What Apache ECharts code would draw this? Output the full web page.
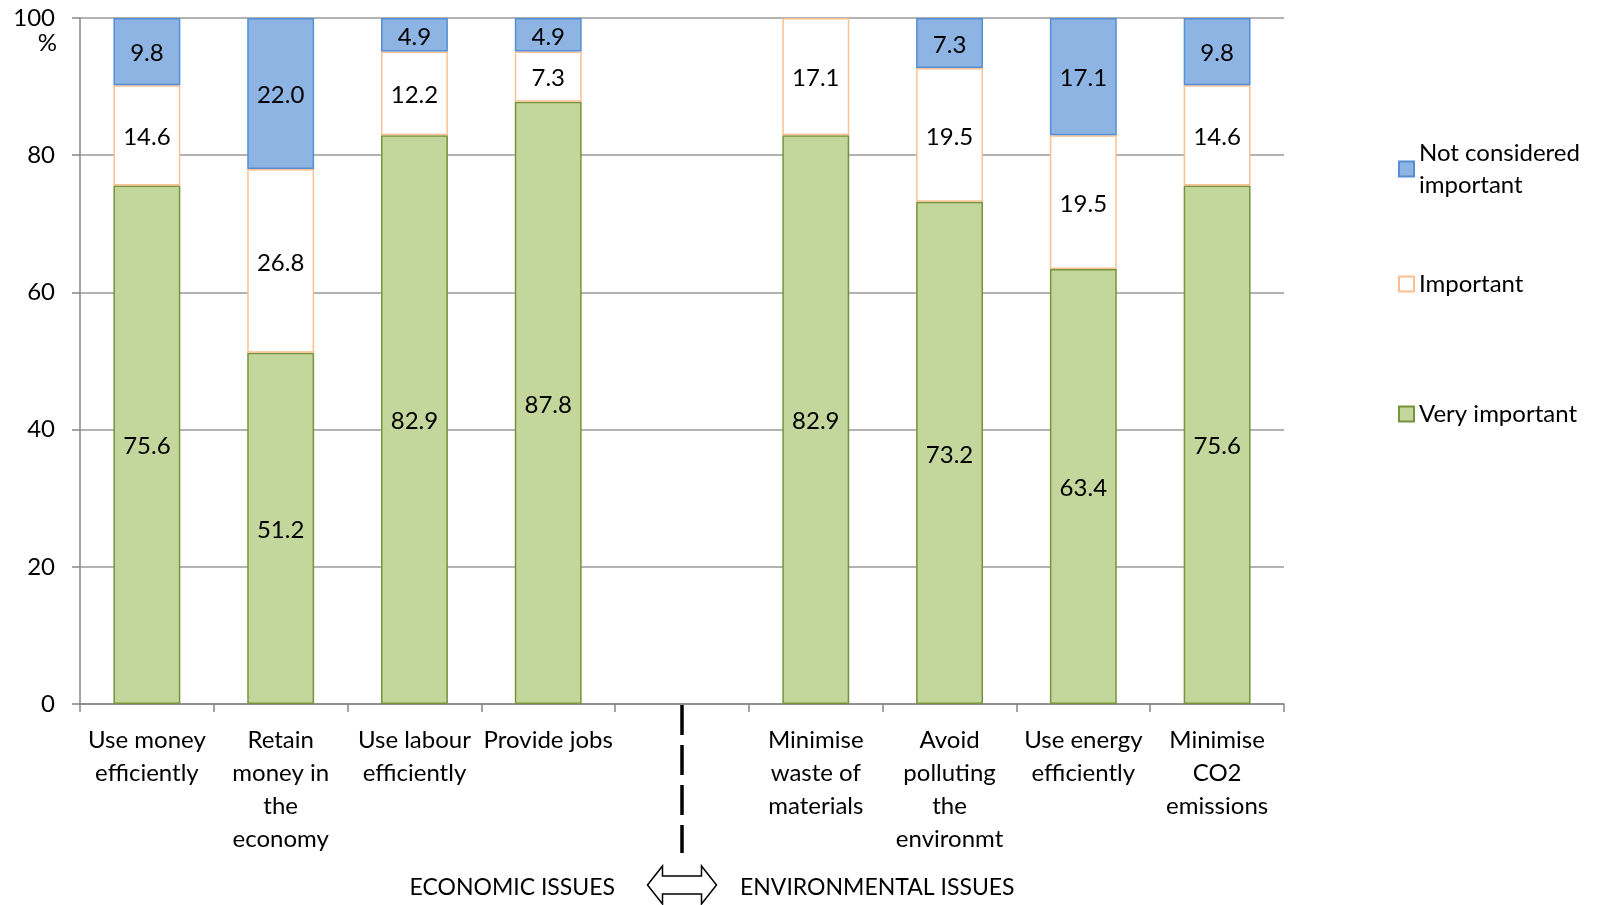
<!DOCTYPE html>
<html>
<head>
<meta charset="utf-8">
<script src="https://cdn.jsdelivr.net/npm/echarts@6/dist/echarts.min.js"></script>
<style>
  html, body { margin: 0; padding: 0; background: #ffffff; }
  #chart { width: 1597px; height: 905px; }
</style>
</head>
<body>
<div id="chart"></div>
<script>
// Issue categories; the empty slot separates economic from environmental issues
const categories = [
  'Use money\nefficiently',
  'Retain\nmoney in\nthe\neconomy',
  'Use labour\nefficiently',
  'Provide jobs',
  '',
  'Minimise\nwaste of\nmaterials',
  'Avoid\npolluting\nthe\nenvironmt',
  'Use energy\nefficiently',
  'Minimise\nCO2\nemissions'
];
const GAP_INDEX = 4;

// Share of respondents (%) per rating
const veryImportant = [75.6, 51.2, 82.9, 87.8, null, 82.9, 73.2, 63.4, 75.6];
const important     = [14.6, 26.8, 12.2, 7.3, null, 17.1, 19.5, 19.5, 14.6];
const notImportant  = [9.8, 22.0, 4.9, 4.9, null, null, 7.3, 17.1, 9.8];

const yTicks = [0, 20, 40, 60, 80, 100];
const groupLabels = ['ECONOMIC ISSUES', 'ENVIRONMENTAL ISSUES'];

const FONT = 'Lato, "Noto Sans", sans-serif';
const FS = 24;

const chart = echarts.init(document.getElementById('chart'), null, { renderer: 'canvas' });

function segmentLabel() {
  return {
    show: true,
    position: 'inside',
    offset: [0, 2],
    color: '#000',
    fontFamily: FONT,
    fontSize: FS,
    formatter: p => (p.value == null ? '' : Number(p.value).toFixed(1))
  };
}

const legendText = { fontFamily: FONT, fontSize: FS, color: '#000', lineHeight: 32 };

chart.setOption({
  animation: false,
  backgroundColor: '#fff',
  grid: { left: 80, right: 313, top: 18, bottom: 201, containLabel: false },
  legend: [
    {
      left: 1398, top: 121, padding: 0, orient: 'vertical', icon: 'rect',
      itemWidth: 15, itemHeight: 15, itemGap: 0, selectedMode: false,
      data: [{ name: 'Not considered important',
               textStyle: Object.assign({}, legendText, { padding: [32, 0, 0, 0] }) }],
      formatter: () => 'Not considered\nimportant',
      textStyle: legendText
    },
    {
      left: 1398, top: 268, padding: 0, icon: 'rect',
      itemWidth: 15, itemHeight: 15, selectedMode: false,
      data: ['Important'], textStyle: legendText
    },
    {
      left: 1398, top: 398, padding: 0, icon: 'rect',
      itemWidth: 15, itemHeight: 15, selectedMode: false,
      data: ['Very important'], textStyle: legendText
    }
  ],
  xAxis: {
    type: 'category',
    data: categories,
    boundaryGap: true,
    axisLine: { lineStyle: { color: '#868686', width: 1.5 } },
    axisTick: { show: true, alignWithLabel: false, length: 8, lineStyle: { color: '#868686', width: 1.5 } },
    axisLabel: {
      interval: 0, margin: 20, color: '#000',
      fontFamily: FONT, fontSize: FS, lineHeight: 33, align: 'center'
    },
    splitLine: { show: false }
  },
  yAxis: {
    type: 'value',
    min: 0, max: 100, interval: 20,
    axisLine: { show: true, lineStyle: { color: '#868686', width: 1.5 } },
    axisTick: { show: true, length: 8, lineStyle: { color: '#868686', width: 1.5 } },
    axisLabel: {
      margin: 25, color: '#000', fontFamily: FONT, fontSize: FS,
      formatter: v => (yTicks.indexOf(v) >= 0 ? String(v) : '')
    },
    splitLine: { show: true, lineStyle: { color: '#9a9a9a', width: 1.5 } }
  },
  series: [
    {
      name: 'Very important', type: 'bar', stack: 'total',
      barWidth: '50%',
      data: veryImportant,
      itemStyle: { color: '#C3D69B', borderColor: '#77933C', borderWidth: 1.5 },
      label: segmentLabel()
    },
    {
      name: 'Important', type: 'bar', stack: 'total',
      data: important,
      itemStyle: { color: '#ffffff', borderColor: '#FAC090', borderWidth: 1.5 },
      label: segmentLabel()
    },
    {
      name: 'Not considered important', type: 'bar', stack: 'total',
      data: notImportant,
      itemStyle: { color: '#8EB4E3', borderColor: '#558ED5', borderWidth: 1.5 },
      label: segmentLabel()
    }
  ]
});

// Divider between the two groups of issues, with the group captions and a double arrow
function drawDecorations() {
  const cx = chart.convertToPixel({ xAxisIndex: 0 }, GAP_INDEX);
  const axisY = chart.convertToPixel({ yAxisIndex: 0 }, 0);
  const topY = chart.convertToPixel({ yAxisIndex: 0 }, 100);
  const ay = 885;           // arrow centre line
  const halfLen = 34.5;     // tip to centre
  const headLen = 15;
  const headHalf = 19;
  const shaftHalf = 9;
  const arrowPts = [
    [cx - halfLen, ay],
    [cx - halfLen + headLen, ay - headHalf],
    [cx - halfLen + headLen, ay - shaftHalf],
    [cx + halfLen - headLen, ay - shaftHalf],
    [cx + halfLen - headLen, ay - headHalf],
    [cx + halfLen, ay],
    [cx + halfLen - headLen, ay + headHalf],
    [cx + halfLen - headLen, ay + shaftHalf],
    [cx - halfLen + headLen, ay + shaftHalf],
    [cx - halfLen + headLen, ay + headHalf]
  ];
  chart.setOption({
    graphic: [
      {
        type: 'line', silent: true,
        shape: { x1: cx, y1: axisY + 1, x2: cx, y2: 853 },
        style: { stroke: '#000', lineWidth: 3.5, lineDash: [30, 10] }
      },
      {
        type: 'polygon', silent: true,
        shape: { points: arrowPts },
        style: { fill: '#fff', stroke: '#000', lineWidth: 1.5 }
      },
      {
        type: 'text', silent: true,
        x: cx - 67, y: ay + 3,
        style: { text: groupLabels[0], fill: '#000', font: FS - 1 + 'px ' + FONT,
                 align: 'right', verticalAlign: 'middle' }
      },
      {
        type: 'text', silent: true,
        x: cx + 58, y: ay + 3,
        style: { text: groupLabels[1], fill: '#000', font: FS - 1 + 'px ' + FONT,
                 align: 'left', verticalAlign: 'middle' }
      },
      {
        type: 'text', silent: true,
        x: 57, y: topY + 25,
        style: { text: '%', fill: '#000', font: FS + 'px ' + FONT,
                 align: 'right', verticalAlign: 'middle' }
      }
    ]
  });
}
drawDecorations();
</script>
</body>
</html>
